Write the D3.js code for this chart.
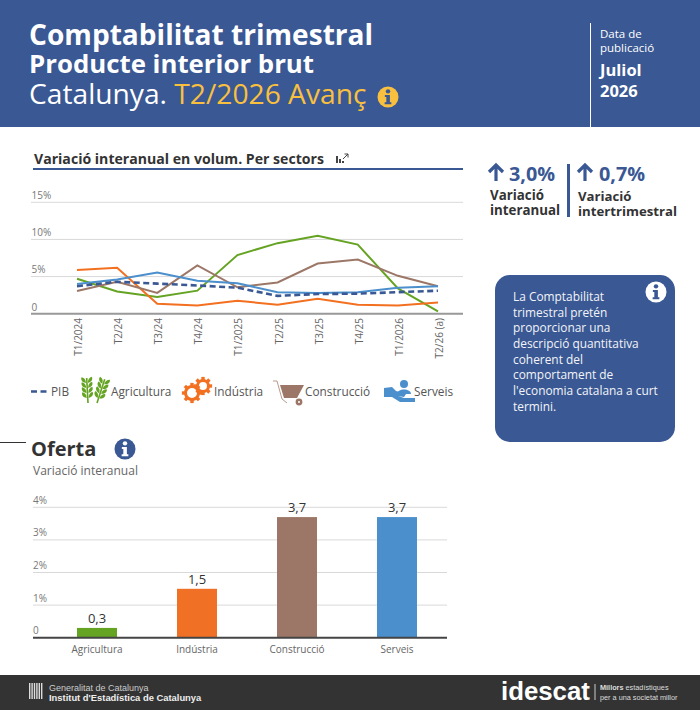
<!DOCTYPE html>
<html>
<head>
<meta charset="utf-8">
<script src="https://cdnjs.cloudflare.com/ajax/libs/d3/7.8.5/d3.min.js"></script>
<style>
html,body{margin:0;padding:0;background:#fff;}
svg{display:block;}
text{font-family:"Open Sans",sans-serif;}
</style>
</head>
<body>
<script>
// DATA
var quarters=["T1/2024","T2/24","T3/24","T4/24","T1/2025","T2/25","T3/25","T4/25","T1/2026","T2/26 (a)"];
var pib=[3.7,4.3,4.05,3.8,3.5,2.4,2.65,2.7,2.9,3.1];
var agricultura=[4.7,3.0,2.25,3.1,7.9,9.5,10.5,9.3,3.4,0.3];
var industria=[5.9,6.2,1.35,1.1,1.75,1.2,2.0,1.2,1.1,1.5];
var construccio=[3.05,4.3,2.8,6.5,3.55,4.2,6.75,7.3,5.1,3.7];
var serveis=[4.0,4.6,5.55,4.45,4.1,2.9,2.8,2.9,3.5,3.7];

var lineTicks=[0,5,10,15];
var barTicks=[0,1,2,3,4];
var sectors=["Agricultura","Indústria","Construcció","Serveis"];
var oferta=[0.3,1.5,3.7,3.7];

var infoLines=["La Comptabilitat","trimestral pretén","proporcionar una","descripció quantitativa","coherent del","comportament de","l'economia catalana a curt","termini."];

var BLUE="#3a5893",GREEN="#65a323",ORANGE="#f37021",BROWN="#9c7767",SKY="#4b8fcc",YELLOW="#f9c040";

var svg=d3.select("body").append("svg").attr("width",700).attr("height",710);

function label(x,y,str,size,fill,weight,anchor){
    return svg.append("text").attr("x",x).attr("y",y).text(str)
        .attr("font-size",size).attr("fill",fill)
        .attr("font-weight",weight||400).attr("text-anchor",anchor||"start");
}

function infoIcon(cx,cy,r,bg,fg){
    var g=svg.append("g").attr("transform","translate("+cx+","+cy+") scale("+(r/10)+")");
    g.append("circle").attr("r",10).attr("fill",bg);
    g.append("circle").attr("cy",-5.4).attr("r",2.1).attr("fill",fg);
    g.append("path").attr("fill",fg)
        .attr("d","M-3,-2 L1.8,-2 L1.8,5 L3.2,5 L3.2,7 L-3.2,7 L-3.2,5 L-1.6,5 L-1.6,0 L-3,0 Z");
}

// HEADER
svg.append("rect").attr("width",700).attr("height",127).attr("fill",BLUE);
label(29,45,"Comptabilitat trimestral",28.1,"#fff",700);
label(29,73,"Producte interior brut",25.8,"#fff",700);
var sub=label(29,104,"Catalunya. ",28.2,"#fff",400);
sub.append("tspan").text("T2/2026 Avanç").attr("fill",YELLOW);
infoIcon(388,97,10.5,YELLOW,BLUE);
svg.append("line").attr("x1",590.5).attr("x2",590.5).attr("y1",23).attr("y2",127).attr("stroke","#fff");
label(600,38,"Data de",11.5,"#fff");
label(600,52,"publicació",11.5,"#fff");
label(600,76,"Juliol",16.5,"#fff",700);
label(600,97,"2026",16.5,"#fff",700);

// LINE CHART
label(34,164,"Variació interanual en volum. Per sectors",14.1,"#333",700);
svg.append("rect").attr("x",33).attr("y",168).attr("width",430).attr("height",2).attr("fill",BLUE);
// small chart icon
var ci=svg.append("g").attr("transform","translate(336,153)").attr("fill","#444");
ci.append("rect").attr("x",0).attr("y",3).attr("width",2).attr("height",7);
ci.append("rect").attr("x",3).attr("y",6).attr("width",2).attr("height",4);
ci.append("rect").attr("x",6).attr("y",8).attr("width",2).attr("height",2);
ci.append("path").attr("d","M7,6 L12,1 M8.5,1 H12 V4.5").attr("fill","none").attr("stroke","#444").attr("stroke-width",1);

var x=d3.scalePoint().domain(quarters).range([77,438]);
var y=d3.scaleLinear().domain([0,15]).range([313.7,202.3]);

svg.append("g").selectAll("line").data(lineTicks.slice(1)).enter().append("line")
    .attr("x1",31).attr("x2",463).attr("y1",function(d){return y(d)}).attr("y2",function(d){return y(d)})
    .attr("stroke","#d9d9d9").attr("stroke-width",1);
svg.append("g").selectAll("text").data(lineTicks).enter().append("text")
    .attr("x",31.5).attr("y",function(d){return y(d)-(d==0?2.7:3.3)})
    .text(function(d){return d==0?"0":d+"%"})
    .attr("font-size",10).attr("fill","#777");
svg.append("line").attr("x1",31).attr("x2",463).attr("y1",y(0)).attr("y2",y(0)).attr("stroke","#999").attr("stroke-width",2);

svg.append("g").selectAll("text.q").data(quarters).enter().append("text")
    .attr("class","q")
    .attr("transform",function(d){return "translate("+(x(d)+5)+",318) rotate(-90)"})
    .attr("text-anchor","end").attr("font-size",10).attr("fill","#666")
    .text(function(d){return d});

var line=d3.line().x(function(d,i){return x(quarters[i])}).y(function(d){return y(d)});
function drawLine(vals,col,dash){
    var p=svg.append("path").datum(vals).attr("d",line).attr("fill","none")
        .attr("stroke",col).attr("stroke-width",2);
    if(dash) p.attr("stroke-dasharray",dash).attr("stroke-width",2.6);
}
drawLine(agricultura,GREEN);
drawLine(industria,ORANGE);
drawLine(construccio,BROWN);
drawLine(serveis,SKY);
drawLine(pib,BLUE,"6,3.5");

// LEGEND
svg.append("line").attr("x1",31).attr("x2",47).attr("y1",391.5).attr("y2",391.5)
    .attr("stroke",BLUE).attr("stroke-width",2.6).attr("stroke-dasharray","6,3.5");
label(51,396,"PIB",11.8,"#555");
function wheat(tx,ty,rot){
    var g=svg.append("g").attr("transform","translate("+tx+","+ty+") rotate("+rot+")");
    g.append("path").attr("d","M0,0 V-25").attr("stroke",GREEN).attr("stroke-width",1.6);
    [-5,-10,-15,-20].forEach(function(h){
        g.append("path").attr("fill",GREEN).attr("d","M-1,"+h+" C-6,"+(h-1)+" -6,"+(h-5)+" -5,"+(h-6)+" C-2,"+(h-5)+" -1,"+(h-3)+" -1,"+h+" Z");
        g.append("path").attr("fill",GREEN).attr("d","M1,"+h+" C6,"+(h-1)+" 6,"+(h-5)+" 5,"+(h-6)+" C2,"+(h-5)+" 1,"+(h-3)+" 1,"+h+" Z");
    });
}
wheat(88,403,-3);
wheat(97,403,18);
label(111,396,"Agricultura",11.8,"#555");
function gear(cx,cy,r,teeth){
    var g=svg.append("g").attr("transform","translate("+cx+","+cy+")");
    g.append("circle").attr("r",r-2).attr("fill","none").attr("stroke",ORANGE).attr("stroke-width",3);
    d3.range(teeth).forEach(function(i){
        g.append("rect").attr("x",-1.7).attr("y",-r-1.6).attr("width",3.4).attr("height",3.4)
            .attr("fill",ORANGE).attr("transform","rotate("+(i*360/teeth)+")");
    });
}
gear(192,393,8.5,8);
gear(203,386,7.5,8);
label(214,396,"Indústria",11.8,"#555");
// wheelbarrow
var wb=svg.append("g").attr("transform","translate(273,380)");
wb.append("path").attr("d","M0,1 H4 L9,19 L14,23").attr("fill","none").attr("stroke","#b79a8d").attr("stroke-width",1);
wb.append("path").attr("d","M7,5 H31 L24,18 H11 Z").attr("fill",BROWN);
wb.append("circle").attr("cx",26).attr("cy",22).attr("r",2.2).attr("fill","#fff").attr("stroke",BROWN).attr("stroke-width",2.4);
label(305,396,"Construcció",11.8,"#555");
// hand with person
var h=svg.append("g").attr("transform","translate(384,378)").attr("fill",SKY);
h.append("circle").attr("cx",20).attr("cy",6).attr("r",4);
h.append("path").attr("d","M13,16 C13,10 27,10 27,16 Z");
h.append("path").attr("d","M0,10 L8,9 L12,13 L22,16 L20,19 L14,18 L20,20 L31,20 V24 H16 L8,19 H0 Z");
label(414,396,"Serveis",11.8,"#555");

// KPI
function arrowUp(tx,ty){
    svg.append("path").attr("transform","translate("+tx+","+ty+")")
        .attr("d","M-7,-1 L0,-8 L7,-1 M0,-8 V8").attr("fill","none").attr("stroke",BLUE).attr("stroke-width",3.2);
}
arrowUp(496,173);
label(509,181,"3,0%",19.8,BLUE,700);
label(490,200,"Variació",13.3,"#333",700);
label(490,215,"interanual",13.3,"#333",700);
svg.append("rect").attr("x",567).attr("y",164).attr("width",3).attr("height",53).attr("fill",BLUE);
arrowUp(585,173);
label(599,181,"0,7%",19.8,BLUE,700);
label(578,201,"Variació",13.2,"#333",700);
label(578,216,"intertrimestral",13.2,"#333",700);

// INFO BOX
svg.append("rect").attr("x",495).attr("y",275).attr("width",180).attr("height",167).attr("rx",15).attr("fill",BLUE);
infoIcon(656,292,10.5,"#fff",BLUE);
svg.append("g").selectAll("text").data(infoLines).enter().append("text")
    .attr("x",513).attr("y",function(d,i){return 301+i*15.65})
    .text(function(d){return d}).attr("font-size",11.9).attr("fill","#f2f4f8");

// BAR CHART
svg.append("line").attr("x1",0).attr("x2",26).attr("y1",442.5).attr("y2",442.5).attr("stroke","#333");
label(31,456,"Oferta",20,"#333",700);
infoIcon(125,449,10.5,BLUE,"#fff");
label(33,475,"Variació interanual",12,"#666");

var xb=d3.scaleBand().domain(sectors).range([47,447]).paddingInner(0.6).paddingOuter(0.3);
var yb=d3.scaleLinear().domain([0,4]).range([637.7,507.3]);
svg.append("g").selectAll("line").data(barTicks.slice(1)).enter().append("line")
    .attr("x1",33).attr("x2",447).attr("y1",function(d){return yb(d)}).attr("y2",function(d){return yb(d)})
    .attr("stroke","#d9d9d9").attr("stroke-width",1);
svg.append("g").selectAll("text").data(barTicks).enter().append("text")
    .attr("x",33).attr("y",function(d){return yb(d)-3.5})
    .text(function(d){return d==0?"0":d+"%"})
    .attr("font-size",10).attr("fill","#777");
var barColors=[GREEN,"#f07125",BROWN,SKY];
svg.append("g").selectAll("rect").data(oferta).enter().append("rect")
    .attr("x",function(d,i){return xb(sectors[i])}).attr("width",xb.bandwidth())
    .attr("y",function(d){return yb(d)}).attr("height",function(d){return yb(0)-yb(d)})
    .attr("fill",function(d,i){return barColors[i]});
svg.append("line").attr("x1",33).attr("x2",447).attr("y1",yb(0)).attr("y2",yb(0)).attr("stroke","#444").attr("stroke-width",2);
svg.append("g").selectAll("text").data(oferta).enter().append("text")
    .attr("x",function(d,i){return xb(sectors[i])+xb.bandwidth()/2}).attr("y",function(d){return yb(d)-5})
    .attr("text-anchor","middle").attr("font-size",13).attr("fill","#333")
    .text(function(d){return d3.format(".1f")(d).replace(".",",")});
svg.append("g").selectAll("text").data(sectors).enter().append("text")
    .attr("x",function(d){return xb(d)+xb.bandwidth()/2}).attr("y",653)
    .attr("text-anchor","middle").attr("font-size",10).attr("fill","#666")
    .text(function(d){return d});

// FOOTER
svg.append("rect").attr("y",675).attr("width",700).attr("height",35).attr("fill","#333");
var crest=svg.append("g").attr("fill","#ddd");
d3.range(6).forEach(function(i){
    crest.append("rect").attr("x",29+i*2.4).attr("y",683).attr("width",1.4).attr("height",16);
});
svg.append("text").attr("x",49).attr("y",691).text("Generalitat de Catalunya")
    .attr("font-size",9).attr("fill","#ccc").style("font-family","Liberation Sans");
svg.append("text").attr("x",49).attr("y",701).text("Institut d'Estadística de Catalunya")
    .attr("font-size",9.4).attr("font-weight",700).attr("fill","#eee").style("font-family","Liberation Sans");
svg.append("text").attr("x",501).attr("y",700).text("idescat")
    .attr("font-size",25.8).attr("font-weight",700).attr("fill","#fff").style("font-family","Liberation Sans");
svg.append("line").attr("x1",595).attr("x2",595).attr("y1",684).attr("y2",700).attr("stroke","#ccc");
var mil=svg.append("text").attr("x",600).attr("y",690).attr("font-size",7.3).attr("fill","#ddd").style("font-family","Liberation Sans");
mil.append("tspan").text("Millors").attr("font-weight",700);
mil.append("tspan").text(" estadístiques");
svg.append("text").attr("x",600).attr("y",700).text("per a una societat millor")
    .attr("font-size",7.3).attr("fill","#ddd").style("font-family","Liberation Sans");
</script>
</body>
</html>
